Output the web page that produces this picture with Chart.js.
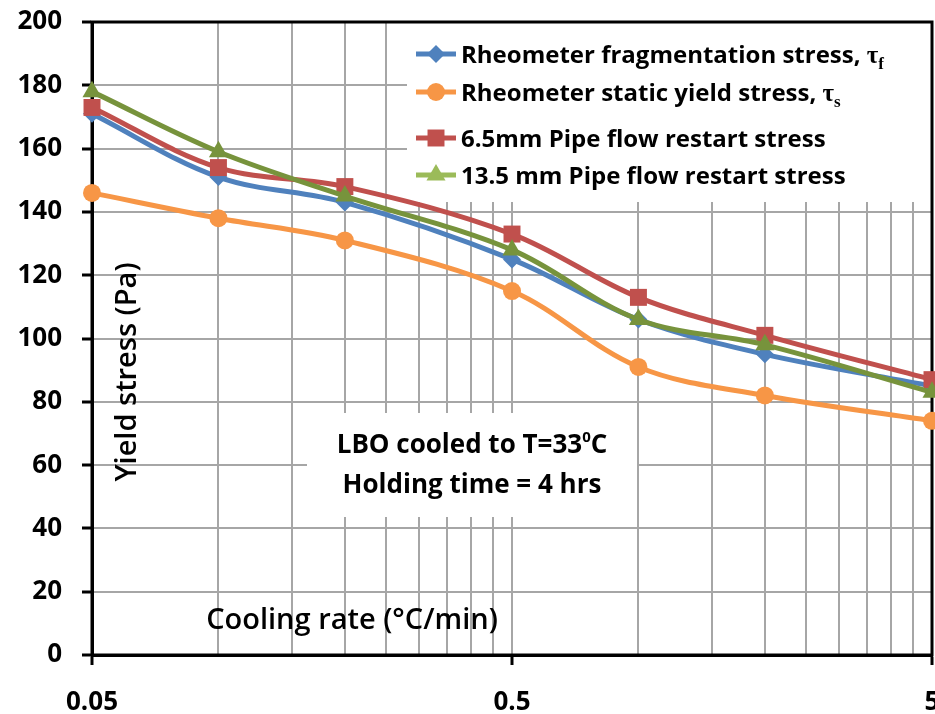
<!DOCTYPE html>
<html>
<head>
<meta charset="utf-8">
<title>Yield stress vs cooling rate</title>
<script src="https://cdn.jsdelivr.net/npm/chart.js@4.4.1/dist/chart.umd.min.js"></script>
<style>
  html, body { margin: 0; padding: 0; background: #fff; overflow: hidden; }
  canvas { display: block; }
</style>
</head>
<body>
<canvas id="chartYield" width="935" height="714"></canvas>
<script>
// Data (cooling rate in °C/min, stresses in Pa)
const coolingRate = [0.05, 0.1, 0.2, 0.5, 1, 2, 5];
const fragStress   = [171, 151, 143, 125, 106, 95, 85];
const staticYield  = [146, 138, 131, 115, 91, 82, 74];
const pipe65       = [173, 154, 148, 133, 113, 101, 87];
const pipe135      = [178, 159, 145, 128, 106, 98, 83];

const seriesNames = [
  'Rheometer fragmentation stress, ',
  'Rheometer static yield stress, ',
  '6.5mm Pipe flow restart stress',
  '13.5 mm Pipe flow restart stress'
];
const seriesSubs = ['f', 's', null, null];

// axis ticks
const xGridTicks = [0.05, 0.1, 0.15, 0.2, 0.25, 0.3, 0.35, 0.4, 0.45, 0.5,
                    1, 1.5, 2, 2.5, 3, 3.5, 4, 4.5, 5];
const xLabelTicks = [0.05, 0.5, 5];
const yMin = 0, yMax = 200, yStep = 20;

const xTitle = 'Cooling rate (°C/min)';
const yTitle = 'Yield stress (Pa)';
const noteLine1 = ['LBO cooled to T=33', '0', 'C'];
const noteLine2 = 'Holding time = 4 hrs';

const FONT = '"Open Sans", Lato, sans-serif';
const GRID = '#a6a6a6';

const styles = [
  { color: '#4f81bd', legend: '#4f81bd', point: 'rectRot', r: 9 },
  { color: '#f79646', legend: '#f79646', point: 'circle', r: 9 },
  { color: '#c0504d', legend: '#c0504d', point: 'rect', r: 12 },
  { color: '#77933c', legend: '#9bbb59', point: 'triangle', r: 11 }
];

function makeSet(i, values) {
  const s = styles[i];
  return {
    label: seriesNames[i],
    data: coolingRate.map((x, k) => ({ x: x, y: values[k] })),
    borderColor: s.color,
    backgroundColor: s.color,
    borderWidth: 5,
    pointStyle: s.point,
    pointRadius: s.r,
    pointBorderWidth: 0,
    tension: 0.35,
    clip: false,
    order: 4 - i
  };
}

// white boxes, frame, titles, legend and note text (all under the lines)
const extras = {
  id: 'extras',
  beforeDatasetsDraw(chart) {
    const ctx = chart.ctx;
    const a = chart.chartArea;
    ctx.save();
    // legend + note backgrounds
    ctx.fillStyle = '#fff';
    ctx.fillRect(407, a.top + 1, a.right - 407, 179);
    ctx.fillRect(307, 413, 330, 104);

    // plot frame
    ctx.strokeStyle = '#000';
    ctx.lineWidth = 3;
    ctx.strokeRect(a.left, a.top, a.right - a.left, a.bottom - a.top);

    // axis titles
    ctx.fillStyle = '#000';
    ctx.textAlign = 'center';
    ctx.textBaseline = 'middle';
    ctx.font = '600 29px ' + FONT;
    ctx.fillText(xTitle, 352, 621);
    ctx.save();
    ctx.translate(128, 372);
    ctx.rotate(-Math.PI / 2);
    ctx.font = '600 29px ' + FONT;
    ctx.fillText(yTitle, 0, 0);
    ctx.restore();

    // note
    ctx.textBaseline = 'alphabetic';
    ctx.textAlign = 'left';
    const big = 'bold 26px ' + FONT, small = 'bold 15px ' + FONT;
    ctx.font = big;
    const w1 = ctx.measureText(noteLine1[0]).width;
    const w3 = ctx.measureText(noteLine1[2]).width;
    ctx.font = small;
    const w2 = ctx.measureText(noteLine1[1]).width;
    let x = 472 - (w1 + w2 + w3) / 2;
    ctx.font = big;
    ctx.fillText(noteLine1[0], x, 453);
    ctx.font = small;
    ctx.fillText(noteLine1[1], x + w1, 442);
    ctx.font = big;
    ctx.fillText(noteLine1[2], x + w1 + w2, 453);
    ctx.textAlign = 'center';
    ctx.fillText(noteLine2, 472, 493);

    // legend
    const baselines = [63, 101, 147, 184];
    seriesNames.forEach((name, i) => {
      const s = styles[i];
      const by = baselines[i];
      const cy = by - 9;
      ctx.strokeStyle = s.legend;
      ctx.lineWidth = 5;
      ctx.beginPath();
      ctx.moveTo(416, cy);
      ctx.lineTo(456, cy);
      ctx.stroke();
      ctx.fillStyle = s.legend;
      Chart.helpers.drawPoint(ctx, { pointStyle: s.point, radius: s.r, rotation: 0, borderWidth: 0 }, 436, cy);

      ctx.fillStyle = '#000';
      ctx.textAlign = 'left';
      ctx.font = 'bold 24px ' + FONT;
      ctx.fillText(name, 461, by);
      if (seriesSubs[i]) {
        const tx = 461 + ctx.measureText(name).width;
        ctx.font = 'bold 25px "Liberation Serif", serif';
        ctx.fillText('τ', tx, by);
        const tw = ctx.measureText('τ').width;
        ctx.font = 'bold 17px "Liberation Serif", serif';
        ctx.fillText(seriesSubs[i], tx + tw, by + 6);
      }
    });
    ctx.restore();
  }
};

const ctx = document.getElementById('chartYield').getContext('2d');
const chart = new Chart(ctx, {
  type: 'line',
  data: {
    datasets: [
      makeSet(0, fragStress),
      makeSet(1, staticYield),
      makeSet(2, pipe65),
      makeSet(3, pipe135)
    ]
  },
  options: {
    responsive: false,
    animation: false,
    layout: { autoPadding: false, padding: { top: 22, right: 3, left: 0, bottom: 0 } },
    plugins: {
      legend: { display: false },
      tooltip: { enabled: false }
    },
    scales: {
      x: {
        type: 'logarithmic',
        min: 0.05,
        max: 5,
        afterBuildTicks: (scale) => {
          scale.ticks = xGridTicks.map(v => ({ value: v }));
        },
        afterFit: (scale) => {
          scale.height = 59;
          scale.paddingLeft = 0;
          scale.paddingRight = 0;
          scale.paddingTop = 0;
          scale.paddingBottom = 0;
        },
        ticks: {
          autoSkip: false,
          maxRotation: 0,
          minRotation: 0,
          padding: 22,
          color: '#000',
          font: { family: FONT, size: 26, weight: 'bold' },
          callback: (v) => xLabelTicks.includes(v) ? String(v) : ''
        },
        grid: {
          color: GRID,
          lineWidth: 2,
          tickLength: 10,
          tickWidth: 3,
          tickColor: (c) => (c.tick && xLabelTicks.includes(c.tick.value)) ? '#000' : 'rgba(0,0,0,0)'
        },
        border: { color: '#000', width: 3 }
      },
      y: {
        type: 'linear',
        min: yMin,
        max: yMax,
        afterFit: (scale) => {
          scale.width = 92;
          scale.paddingTop = 0;
          scale.paddingBottom = 0;
          scale.paddingLeft = 0;
          scale.paddingRight = 0;
        },
        ticks: {
          stepSize: yStep,
          padding: 20,
          color: '#000',
          font: { family: FONT, size: 26, weight: 'bold' }
        },
        grid: {
          color: GRID,
          lineWidth: 2,
          tickLength: 10,
          tickWidth: 3,
          tickColor: '#000'
        },
        border: { color: '#000', width: 3 }
      }
    }
  },
  plugins: [extras]
});
</script>
</body>
</html>
